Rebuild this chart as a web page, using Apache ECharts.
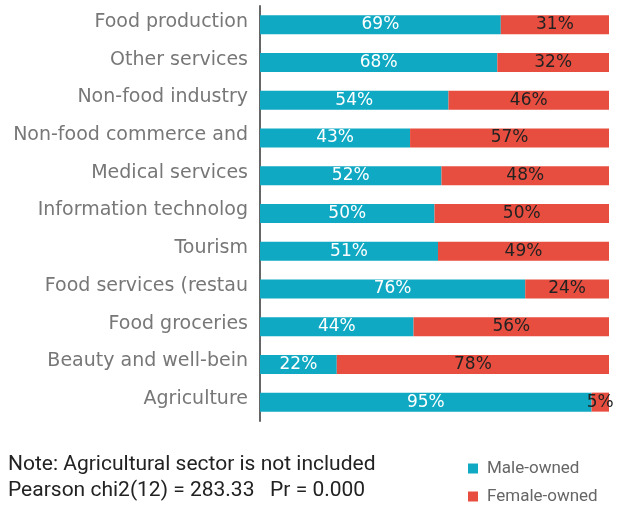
<!DOCTYPE html>
<html>
<head>
<meta charset="utf-8">
<script src="https://cdn.jsdelivr.net/npm/echarts@6/dist/echarts.min.js"></script>
<style>
  html, body { margin: 0; padding: 0; background: #fff; }
  #chart { width: 618px; height: 507px; }
</style>
</head>
<body>
<div id="chart"></div>
<script>
// Sectors, top to bottom
const sectors = [
  'Food production',
  'Other services',
  'Non-food industry',
  'Non-food commerce and',
  'Medical services',
  'Information technolog',
  'Tourism',
  'Food services (restau',
  'Food groceries',
  'Beauty and well-bein',
  'Agriculture'
];
// Share of firms by owner gender (%)
const maleOwned   = [69, 68, 54, 43, 52, 50, 51, 76, 44, 22, 95];
const femaleOwned = [31, 32, 46, 57, 48, 50, 49, 24, 56, 78, 5];

const seriesNames = ['Male-owned', 'Female-owned'];

const noteLines = [
  'Note: Agricultural sector is not included',
  'Pearson chi2(12) = 283.33   Pr = 0.000'
];

const TEAL = '#10A9C3';
const RED = '#E84E3F';
const labelFont = 'DejaVu Sans';

const chart = echarts.init(document.getElementById('chart'), null, { renderer: 'canvas' });

// one legend entry per row, stacked on the right under the plot
const legendRow = (name, top) => ({
  left: 468,
  top: top,
  padding: 0,
  itemWidth: 10,
  itemHeight: 10,
  icon: 'rect',
  textStyle: {
    color: '#666',
    fontFamily: 'Roboto',
    fontSize: 17,
    padding: [0, 0, 0, 4]
  },
  data: [name]
});

chart.setOption({
  animation: false,
  backgroundColor: '#ffffff',
  grid: { left: 260, right: 9, top: 6, bottom: 86, containLabel: false },
  xAxis: {
    type: 'value',
    min: 0,
    max: 100,
    show: false
  },
  yAxis: {
    type: 'category',
    data: sectors,
    inverse: true,
    axisLine: { show: true, lineStyle: { color: '#666', width: 2 } },
    axisTick: { show: false },
    axisLabel: {
      color: '#777',
      fontFamily: labelFont,
      fontSize: 19,
      margin: 12,
      // sit the sector names slightly above the bar centre line
      verticalAlign: 'bottom',
      lineHeight: 6
    }
  },
  legend: [legendRow(seriesNames[0], 460), legendRow(seriesNames[1], 488)],
  graphic: noteLines.map((t, i) => ({
    type: 'text',
    left: 8,
    top: 454 + i * 26,
    style: { text: t, fill: '#222', font: '21px Roboto' }
  })),
  series: [
    {
      name: seriesNames[0],
      type: 'bar',
      stack: 'share',
      data: maleOwned,
      barWidth: 19,
      itemStyle: { color: TEAL },
      label: {
        show: true,
        position: 'inside',
        formatter: '{c}%',
        color: '#fff',
        fontFamily: labelFont,
        fontSize: 17
      }
    },
    {
      name: seriesNames[1],
      type: 'bar',
      stack: 'share',
      data: femaleOwned,
      barWidth: 19,
      itemStyle: { color: RED },
      label: {
        show: true,
        position: 'inside',
        formatter: '{c}%',
        color: '#222',
        fontFamily: labelFont,
        fontSize: 17
      }
    }
  ]
});
</script>
</body>
</html>
